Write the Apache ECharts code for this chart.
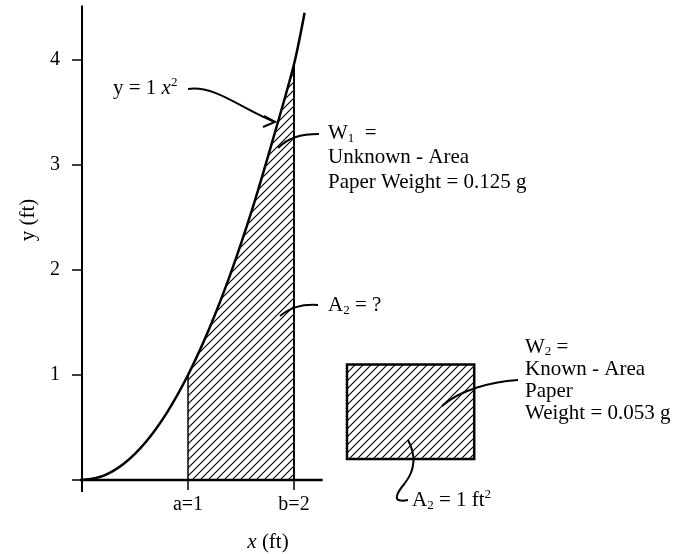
<!DOCTYPE html>
<html><head><meta charset="utf-8">
<script src="https://cdn.jsdelivr.net/npm/echarts@6/dist/echarts.min.js"></script>
<style>html,body{margin:0;padding:0;background:#fff}#c{width:682px;height:554px}</style>
</head><body><div id="c"></div>
<script>
// ---- data ----
const curveX = [0, 0.2, 0.4, 0.6, 0.8, 1.0, 1.2, 1.4, 1.6, 1.8, 2.0, 2.1];
const curveY = [0, 0.04, 0.16, 0.36, 0.64, 1.0, 1.44, 1.96, 2.56, 3.24, 3.96, 4.45];
const limitA = 1;
const limitB = 2;
const paperRect = [2.5, 0.2, 3.7, 1.1];        // x0, y0, x1, y1 (ft)
const xAxisSpan = [-0.104, 2.27];
const yAxisSpan = [-0.114, 4.52];
const yTickValues = [0, 1, 2, 3, 4];
const yLabelValues = [1, 2, 3, 4];
const xTickValues = [0, 1, 2];
const xLabelValues = [1, 2];
const xTickLabels = ['a=1', 'b=2'];

const FONT = '"Liberation Serif", "Times New Roman", serif';

function hatchCanvas() {
  const c = document.createElement('canvas');
  c.width = 8; c.height = 8;
  const g = c.getContext('2d');
  g.strokeStyle = '#000'; g.lineWidth = 1.15;
  g.beginPath();
  g.moveTo(0, 8); g.lineTo(8, 0);
  g.moveTo(-2, 2); g.lineTo(2, -2);
  g.moveTo(6, 10); g.lineTo(10, 6);
  g.stroke();
  return c;
}
const pattern = { image: hatchCanvas(), repeat: 'repeat' };

const curvePts = curveX.map((x, i) => [x, curveY[i]]);
const areaPts = curvePts.filter(p => p[0] >= limitA && p[0] <= limitB);
const yAtA = curveY[curveX.indexOf(limitA)];
const yAtB = curveY[curveX.indexOf(limitB)];

const chart = echarts.init(document.getElementById('c'));

function richSet(lh) {
  return {
    n: { fontFamily: FONT, fontSize: 21, lineHeight: lh, fill: '#000', color: '#000' },
    i: { fontFamily: FONT, fontSize: 21, fontStyle: 'italic', lineHeight: lh, fill: '#000', color: '#000' },
    sub: { fontFamily: FONT, fontSize: 13, lineHeight: 13, verticalAlign: 'bottom', fill: '#000', color: '#000' },
    sup: { fontFamily: FONT, fontSize: 13, lineHeight: 13, verticalAlign: 'top', fill: '#000', color: '#000' }
  };
}
function T(x, y, text, lh, align, va, extra) {
  return Object.assign({
    type: 'text', x: x, y: y, silent: true,
    style: {
      text: text, rich: richSet(lh), fill: '#000',
      font: '21px ' + FONT,
      align: align || 'left', textAlign: align || 'left',
      verticalAlign: va || 'middle', textVerticalAlign: va || 'middle'
    }
  }, extra || {});
}
const stroke = { stroke: '#000', lineWidth: 2, fill: null };
function bz(x1, y1, c1x, c1y, c2x, c2y, x2, y2) {
  return { type: 'bezierCurve', silent: true,
    shape: { x1: x1, y1: y1, cpx1: c1x, cpy1: c1y, cpx2: c2x, cpy2: c2y, x2: x2, y2: y2 }, style: stroke };
}

const option = {
  animation: false,
  backgroundColor: '#fff',
  grid: { left: 82, right: 6.4, top: 2.25, bottom: 74, containLabel: false },
  xAxis: {
    type: 'value', min: 0, max: 5.6,
    axisLine: { show: false },
    axisTick: { show: true, customValues: xTickValues, length: 10, lineStyle: { color: '#000', width: 1.5 } },
    axisLabel: {
      customValues: xLabelValues, margin: 15, fontFamily: FONT, fontSize: 20, color: '#000',
      formatter: v => xTickLabels[xLabelValues.indexOf(v)]
    },
    splitLine: { show: false }
  },
  yAxis: {
    type: 'value', min: 0, max: 4.55,
    axisLine: { show: false },
    axisTick: { show: true, customValues: yTickValues, length: 10, lineStyle: { color: '#000', width: 1.5 } },
    axisLabel: { customValues: yLabelValues, margin: 22, fontFamily: FONT, fontSize: 20, color: '#000' },
    splitLine: { show: false }
  },
  series: [
    { type: 'line', data: areaPts, showSymbol: false, smooth: 0.3, silent: true, z: 1,
      lineStyle: { width: 0 }, areaStyle: { color: pattern, opacity: 1 } },
    { type: 'line', data: curvePts, showSymbol: false, smooth: 0.3, silent: true, z: 4, clip: false,
      lineStyle: { color: '#000', width: 2.5 } },
    { type: 'line', data: [[limitA, 0], [limitA, yAtA]], showSymbol: false, silent: true, z: 3,
      lineStyle: { color: '#000', width: 1.5 } },
    { type: 'line', data: [[limitB, 0], [limitB, yAtB]], showSymbol: false, silent: true, z: 3,
      lineStyle: { color: '#000', width: 2 } },
    { type: 'line', data: [[xAxisSpan[0], 0], [xAxisSpan[1], 0]], showSymbol: false, silent: true, z: 5, clip: false,
      lineStyle: { color: '#000', width: 2.5 } },
    { type: 'line', data: [[0, yAxisSpan[0]], [0, yAxisSpan[1]]], showSymbol: false, silent: true, z: 5, clip: false,
      lineStyle: { color: '#000', width: 2 } },
    { type: 'custom', silent: true, z: 3, clip: false,
      data: [paperRect],
      renderItem: function (params, api) {
        const p0 = api.coord([api.value(0), api.value(3)]);
        const p1 = api.coord([api.value(2), api.value(1)]);
        return { type: 'rect', shape: { x: p0[0], y: p0[1], width: p1[0] - p0[0], height: p1[1] - p0[1] },
          style: { fill: pattern, stroke: '#000', lineWidth: 2.5 } };
      } }
  ],
  graphic: { elements: [
    T(268, 542, '{i|x}{n| (ft)}', 24, 'center', 'middle'),
    T(28, 220, '{n|y (ft)}', 24, 'center', 'middle', { rotation: Math.PI / 2 }),
    T(113, 88, '{n|y = 1 }{i|x}{sup|2}', 24, 'left', 'middle'),
    bz(188, 89, 215, 85, 240, 108, 275, 122),
    { type: 'polyline', silent: true, shape: { points: [[264, 116], [275, 122], [263, 127]] }, style: stroke },
    T(328, 120.75, '{n|W}{sub|1}{n|  =}\n{n|Unknown - Area}\n{n|Paper Weight = 0.125 g}', 24.5, 'left', 'top'),
    bz(319, 134, 300, 134, 288, 138, 278, 148),
    T(328, 305, '{n|A}{sub|2}{n| = ?}', 24, 'left', 'middle'),
    bz(318, 305, 300, 304, 290, 308, 280, 316),
    T(525, 336, '{n|W}{sub|2}{n| =}\n{n|Known - Area}\n{n|Paper}\n{n|Weight = 0.053 g}', 22, 'left', 'top'),
    bz(518, 380, 490, 382, 460, 390, 442, 406),
    T(412, 500, '{n|A}{sub|2}{n| = 1 ft}{sup|2}', 24, 'left', 'middle'),
    bz(408, 440, 416, 455, 415, 470, 405, 483),
    bz(405, 483, 395, 495, 392, 503, 408, 500)
  ] }
};
chart.setOption(option);
</script></body></html>
